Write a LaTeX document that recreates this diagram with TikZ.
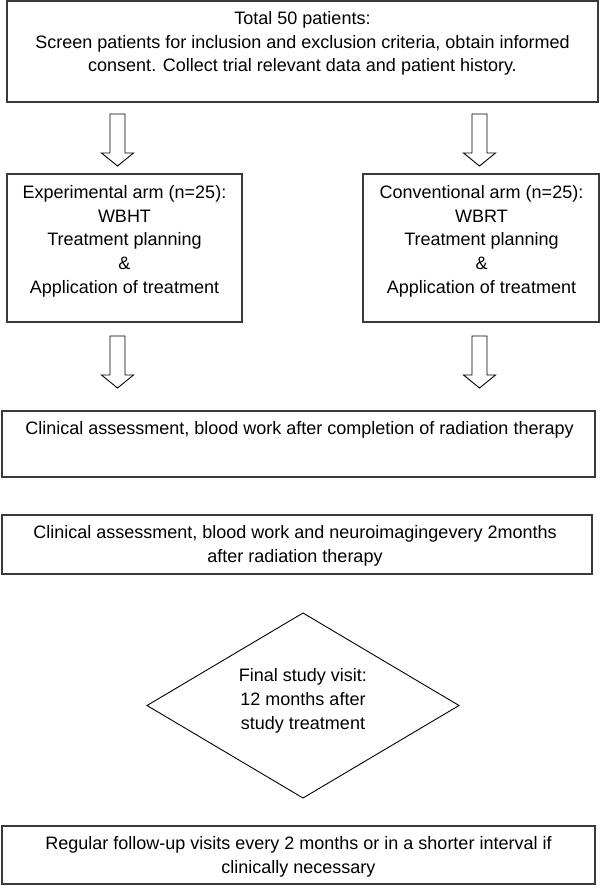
\documentclass[tikz,border=0pt]{standalone}
\usepackage{fontspec}
\setmainfont{Liberation Sans}
\usetikzlibrary{shapes.geometric}
\definecolor{boxgray}{HTML}{3A3A3A}
\begin{document}
\begin{tikzpicture}[x=1bp,y=-1bp,
  box/.style={draw=boxgray, line width=1.4bp, inner sep=0pt, outer sep=0pt},
  txt/.style={anchor=north, inner sep=0pt, outer sep=0pt, align=center,
              font=\fontsize{18bp}{23.7bp}\selectfont},
  blockarrow/.style={draw=black, line width=0.9bp, fill=white, line join=miter},
  downarrow/.pic={\draw[blockarrow] (-7.5,0) -- (7.5,0) -- (7.5,39) -- (16,39)
                   -- (0,52) -- (-16,39) -- (-7.5,39) -- cycle;}]
\useasboundingbox (0,0) rectangle (600,886);

% boxes
\node[box, minimum width=591bp, minimum height=101bp] (top) at (302.5,51.5) {};
\node[box, minimum width=235bp, minimum height=148bp] (expbox) at (124.5,248) {};
\node[box, minimum width=236bp, minimum height=148bp] (conbox) at (481,248) {};
\node[box, minimum width=593bp, minimum height=66bp] (clin1) at (298.5,444) {};
\node[box, minimum width=590bp, minimum height=59bp] (clin2) at (297,544.5) {};
\node[draw=black, line width=0.9bp, shape=diamond, inner sep=0pt, outer sep=0pt,
      minimum width=312bp, minimum height=185bp] (final) at (303,705.5) {};
\node[box, minimum width=593bp, minimum height=58bp] (follow) at (298.5,855) {};

% texts
\node[txt] (toptxt) at (302.5,8) {\strut Total 50 patients:\\
  Screen patients for inclusion and exclusion criteria, obtain informed\\
  consent. Collect trial relevant data and patient history.};
\node[txt] (exptxt) at (124.5,182) {\strut Experimental arm (n=25):\\WBHT\\Treatment planning\\\&\\Application of treatment};
\node[txt] (contxt) at (481.5,182) {\strut Conventional arm (n=25):\\WBRT\\Treatment planning\\\&\\Application of treatment};
\node[txt] (clin1txt) at (299.5,418) {\strut Clinical assessment, blood work after completion of radiation therapy};
\node[txt] (clin2txt) at (295,522) {\strut Clinical assessment, blood work and neuroimagingevery 2months\\after radiation therapy};
\node[txt] (finaltxt) at (303,665) {\strut Final study visit:\\12 months after\\study treatment};
\node[txt] (followtxt) at (298.5,833) {\strut Regular follow-up visits every 2 months or in a shorter interval if\\clinically necessary};

% block arrows
\pic at (117.5,114) {downarrow};
\pic at (479.5,114) {downarrow};
\pic at (117.5,336) {downarrow};
\pic at (479.5,336) {downarrow};
\end{tikzpicture}
\end{document}
